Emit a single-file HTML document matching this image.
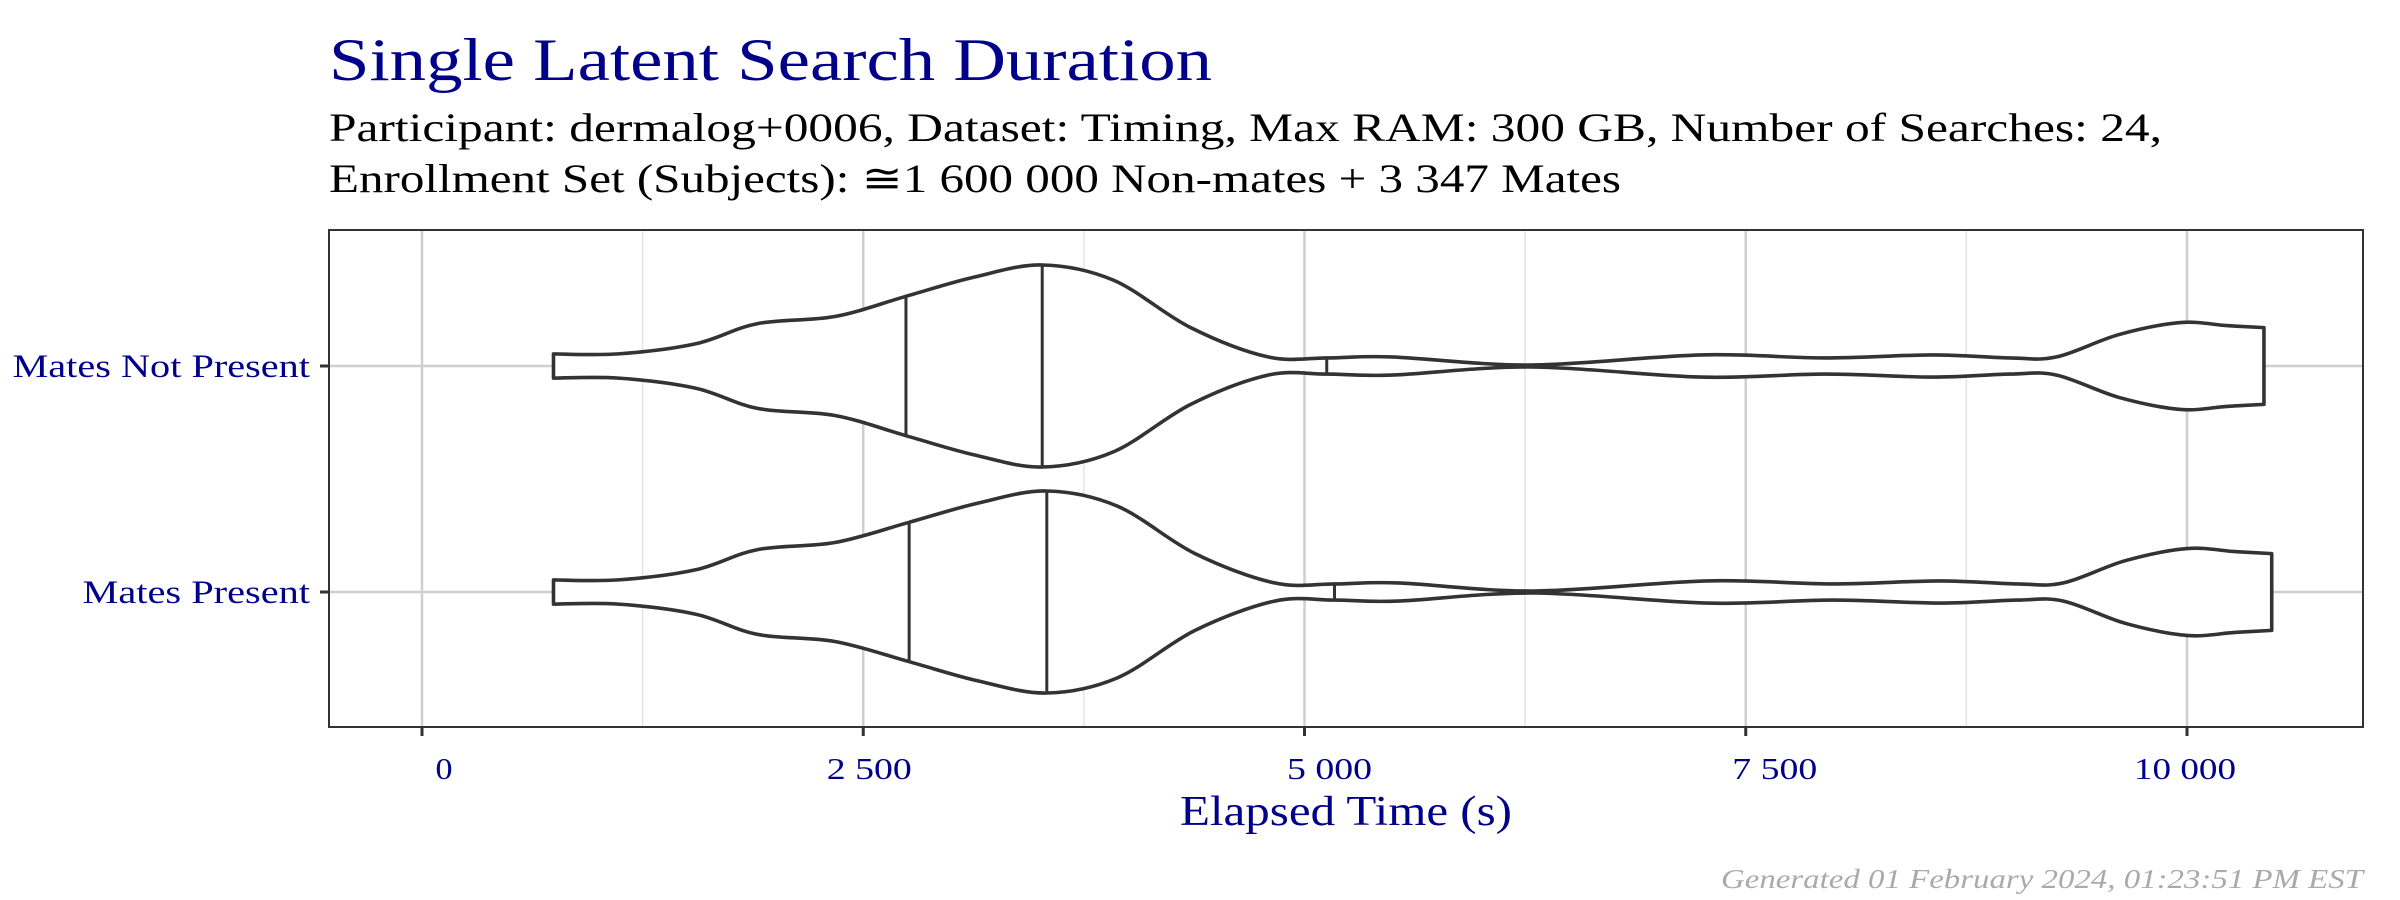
<!DOCTYPE html>
<html><head><meta charset="utf-8"><style>
html,body{margin:0;padding:0;background:#fff;}
svg{display:block;font-family:"Liberation Serif",serif;}
</style></head><body>
<svg id="chart" width="2400" height="900" viewBox="0 0 2400 900">
<text x="329" y="80" font-size="60" fill="#00008B" textLength="883" lengthAdjust="spacingAndGlyphs">Single Latent Search Duration</text>
<text x="329" y="141" font-size="40" fill="#000" textLength="1833" lengthAdjust="spacingAndGlyphs">Participant: dermalog+0006, Dataset: Timing, Max RAM: 300 GB, Number of Searches: 24,</text>
<text x="329" y="192" font-size="40" fill="#000" textLength="1292" lengthAdjust="spacingAndGlyphs">Enrollment Set (Subjects): ≅1 600 000 Non-mates + 3 347 Mates</text>
<g id="grid"></g>
<g id="violins"></g>
<rect x="329" y="230" width="2034" height="497" fill="none" stroke="#333" stroke-width="2"/>
<g id="axes"></g>
<text x="1346" y="825" font-size="42" fill="#00008B" text-anchor="middle" textLength="332" lengthAdjust="spacingAndGlyphs">Elapsed Time (s)</text>
<text x="2363" y="888" font-size="27" fill="#aaa" font-style="italic" text-anchor="end" textLength="642" lengthAdjust="spacingAndGlyphs">Generated 01 February 2024, 01:23:51 PM EST</text>
</svg>
<script>
const categories = ["Mates Not Present", "Mates Present"];
const xTicks = [0, 2500, 5000, 7500, 10000];
const xTickLabels = ["0", "2 500", "5 000", "7 500", "10 000"];
const xMinor = [1250, 3750, 6250, 8750];
const npTimes = [745,1113,1551,1901,2339,2742,3128,3514,3917,4355,4793,5126,5494,6282,7246,7947,8560,8998,9261,9612,9962,10225,10436];
const npDensity = [.12,.12,.22,.42,.49,.69,.88,1,.85,.38,.09,.08,.09,.01,.11,.08,.11,.08,.09,.31,.43,.40,.38];
const npQuantiles = [2742, 3514, 5126];
const mpTimes = [745,1113,1551,1901,2339,2760,3150,3540,3940,4380,4830,5170,5530,6300,7280,7990,8600,9040,9300,9650,10000,10270,10480];
const mpDensity = [.12,.12,.22,.42,.49,.69,.88,1,.85,.38,.09,.08,.09,.01,.11,.08,.11,.08,.09,.31,.43,.40,.38];
const mpQuantiles = [2760, 3540, 5170];

const NS="http://www.w3.org/2000/svg";
const L=329,R=2363,T=230,B=727;
const x = v => 422 + v*0.1765;
const y = i => 366 + i*226;
const maxHalf = 101;
const labelNudge = [22, 6, 25, 29, -2];
const labelWidth = l => l.length*17;
function mk(tag, attrs, parent){const e=document.createElementNS(NS,tag);for(const k in attrs)e.setAttribute(k,attrs[k]);parent.appendChild(e);return e;}
const grid=document.getElementById('grid'), axes=document.getElementById('axes'), vg=document.getElementById('violins');
xMinor.forEach(v=>{const l=mk('line',{x1:x(v),x2:x(v),y1:T,y2:B,stroke:'#e4e4e4','stroke-width':1.5},grid);

});
xTicks.forEach((v,i)=>{const l=mk('line',{x1:x(v),x2:x(v),y1:T,y2:B,stroke:'#cfcfcf','stroke-width':2.5},grid);


const t=mk('line',{x1:x(v),x2:x(v),y1:B,y2:B+9,stroke:'#333','stroke-width':3},axes);


const tx=mk('text',{x:x(v)+labelNudge[i],y:779,'font-size':31,fill:'#00008B','text-anchor':'middle',textLength:labelWidth(xTickLabels[i]),lengthAdjust:'spacingAndGlyphs'},axes);
tx.textContent=xTickLabels[i];

});
categories.forEach((c,i)=>{const l=mk('line',{x1:L,x2:R,y1:y(i),y2:y(i),stroke:'#cfcfcf','stroke-width':2.5},grid);


const t=mk('line',{x1:L-9,x2:L,y1:y(i),y2:y(i),stroke:'#333','stroke-width':3},axes);


const tx=mk('text',{x:310,y:y(i)+11,'font-size':33,fill:'#00008B','text-anchor':'end',textLength:c.length*17.5,lengthAdjust:'spacingAndGlyphs'},axes);
tx.textContent=c;

});
function smooth(pts){let d='';for(let i=0;i<pts.length-1;i++){const p0=pts[Math.max(0,i-1)],p1=pts[i],p2=pts[i+1],p3=pts[Math.min(pts.length-1,i+2)];
const c1=[p1[0]+(p2[0]-p0[0])/6,p1[1]+(p2[1]-p0[1])/6],c2=[p2[0]-(p3[0]-p1[0])/6,p2[1]-(p3[1]-p1[1])/6];
d+=` C${c1[0]},${c1[1]} ${c2[0]},${c2[1]} ${p2[0]},${p2[1]}`;}return d;}
function interp(ts,ds,v){for(let i=0;i<ts.length-1;i++){if(v>=ts[i]&&v<=ts[i+1]){const f=(v-ts[i])/(ts[i+1]-ts[i]);return ds[i]+f*(ds[i+1]-ds[i]);}}return 0;}
function violin(ts,ds,qs,i,name){const cy=y(i);
const top=ts.map((t,k)=>[x(t),cy-ds[k]*maxHalf]);const bot=ts.map((t,k)=>[x(t),cy+ds[k]*maxHalf]).reverse();
let d=`M${top[0][0]},${top[0][1]}`+smooth(top)+` L${bot[0][0]},${bot[0][1]}`+smooth(bot)+' Z';
const p=mk('path',{d:d,fill:'#fff',stroke:'#333','stroke-width':3.6,'stroke-linejoin':'round'},vg);


qs.forEach(q=>{const h=interp(ts,ds,q)*maxHalf;const l=mk('line',{x1:x(q),x2:x(q),y1:cy-h,y2:cy+h,stroke:'#333','stroke-width':3},vg);

});}
violin(npTimes,npDensity,npQuantiles,0,'violin-mates-not-present');
violin(mpTimes,mpDensity,mpQuantiles,1,'violin-mates-present');
</script>
</body></html>
